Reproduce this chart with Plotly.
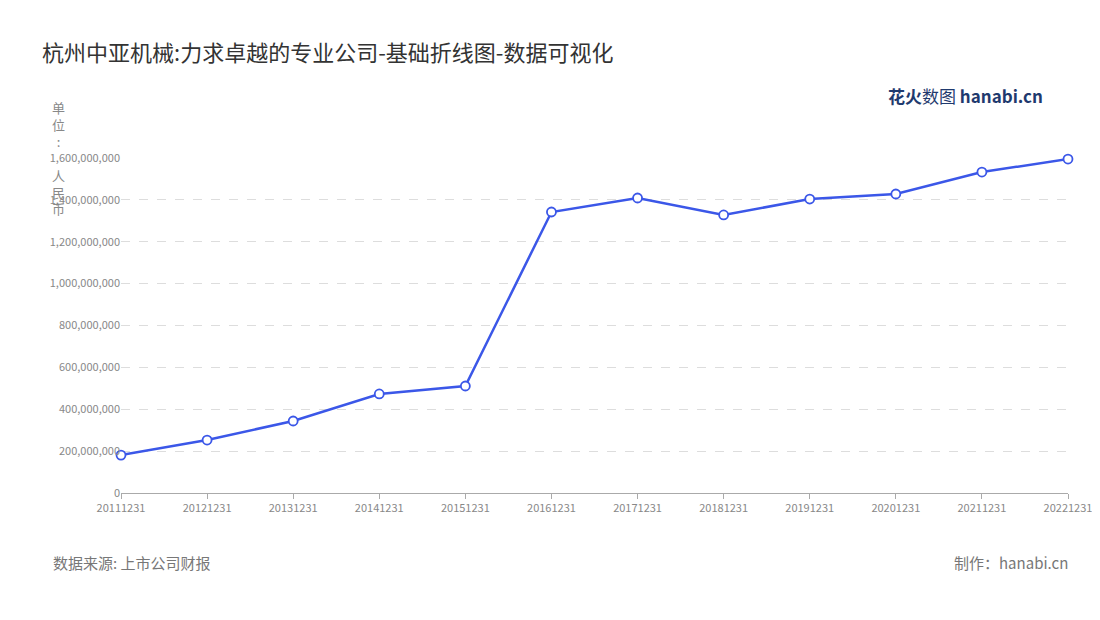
import plotly.graph_objects as go

dates = ["20111231","20121231","20131231","20141231","20151231","20161231",
         "20171231","20181231","20191231","20201231","20211231","20221231"]
values = [181e6, 253e6, 344e6, 473e6, 511e6, 1342e6, 1409e6, 1328e6, 1404e6, 1428e6, 1533e6, 1595e6]
yticks = [0, 2e8, 4e8, 6e8, 8e8, 1e9, 1.2e9, 1.4e9, 1.6e9]

fig = go.Figure(go.Scatter(
    x=dates, y=values, mode="lines+markers", cliponaxis=False,
    line=dict(color="#3b57e8", width=2.5),
    marker=dict(size=9, color="white", line=dict(color="#3b57e8", width=1.8)),
))
font = "Noto Sans CJK SC"
fig.update_layout(
    width=1100, height=620, plot_bgcolor="white", paper_bgcolor="white",
    margin=dict(l=113, r=40, t=150, b=135),
    showlegend=False, font=dict(family=font, color="#888", size=11),
    title=dict(text="杭州中亚机械:力求卓越的专业公司-基础折线图-数据可视化", x=0.031, y=0.94,
               xanchor="left", font=dict(size=22, color="#333", family=font)),
    xaxis=dict(type="category", range=[0, 11], showgrid=False, showline=True,
               linecolor="#aaa", ticks="outside", ticklen=5, tickcolor="#aaa",
               tickfont=dict(size=11, color="#888")),
    yaxis=dict(range=[0, 1.6e9], tickvals=yticks, tickformat=",.0f", showgrid=True,
               gridcolor="#ddd", griddash="dash", zeroline=False, showline=False,
               ticks="", tickfont=dict(size=11, color="#888")),
    annotations=[
        dict(text="单<br>位<br>:<br> <br>人<br>民<br>币", x=-0.0665, y=1.185, xref="paper", yref="paper",
             xanchor="center", yanchor="top",
             showarrow=False, font=dict(size=13, color="#888"), align="center"),
        dict(text="数据来源: 上市公司财报", x=-0.074, y=-0.245, xref="paper", yref="paper",
             xanchor="left", showarrow=False, font=dict(size=15, color="#777")),
        dict(text="制作：hanabi.cn", x=1.002, y=-0.245, xref="paper", yref="paper",
             xanchor="right", showarrow=False, font=dict(size=15, color="#777")),
        dict(text="<b>花火</b>数图 <b>hanabi.cn</b>", x=0.976, y=1.23, xref="paper", yref="paper",
             xanchor="right", showarrow=False, font=dict(size=17, color="#1f3a6e")),
    ],
)
fig.write_html("out.html")
